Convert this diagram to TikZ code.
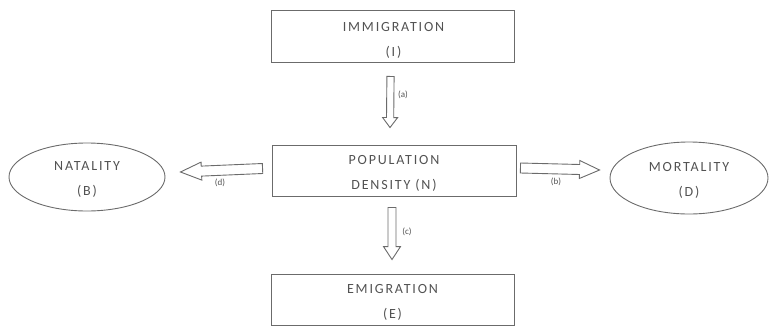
\documentclass[tikz,border=0pt]{standalone}
\usepackage{fontspec}
\setmainfont{Carlito}
\usetikzlibrary{calc,shapes.geometric}
\definecolor{linegray}{gray}{0.42}
\definecolor{textgray}{gray}{0.32}
\newcommand\blockarr[5]{% from, to, shaft half width, head half width, head length
  \draw[blockarrow] ($(#1)!#3!90:(#2)$)
    -- ($($(#2)!#5!(#1)$)!#3!-90:(#1)$)
    -- ($($(#2)!#5!(#1)$)!#4!-90:(#1)$)
    -- (#2)
    -- ($($(#2)!#5!(#1)$)!#4!90:(#1)$)
    -- ($($(#2)!#5!(#1)$)!#3!90:(#1)$)
    -- ($(#1)!#3!-90:(#2)$) -- cycle;}
\begin{document}
\begin{tikzpicture}[x=1pt,y=-1pt,
  every node/.style={text=textgray},
  boxnode/.style={draw=linegray, line width=0.9pt, minimum width=243pt, minimum height=52pt, inner sep=0pt},
  ovalnode/.style={draw=linegray, line width=0.9pt, ellipse, inner sep=0pt},
  txt/.style={align=center, inner sep=0pt,
    font=\fontsize{14}{25}\selectfont\addfontfeature{LetterSpace=13}},
  blockarrow/.style={draw=linegray, line width=0.9pt, fill=white, line join=miter},
  lbl/.style={font=\fontsize{9}{10}\selectfont, inner sep=0pt}]
\useasboundingbox (0,0) rectangle (770,327);
\node[boxnode] (imm) at (392.5,36) {};
\node[boxnode, minimum width=244pt, minimum height=51pt] (pop) at (394,170.5) {};
\node[boxnode, minimum height=51pt] (emi) at (392.5,299.5) {};
\node[ovalnode, minimum width=156pt, minimum height=68pt] (nat) at (87,177) {};
\node[ovalnode, minimum width=158pt, minimum height=72pt] (mor) at (689,178) {};
\node[txt] (immt) at ($(imm)+(1,4)$) {IMMIGRATION\\(I)};
\node[txt] (popt) at ($(pop)+(0,2.5)$) {POPULATION\\DENSITY (N)};
\node[txt] (emit) at ($(emi)+(0,3)$) {EMIGRATION\\(E)};
\node[txt] (natt) at ($(nat)+(0,2.5)$) {NATALITY\\(B)};
\node[txt] (mort) at ($(mor)+(0,2)$) {MORTALITY\\(D)};
\coordinate (a1) at ($(imm.south)+(-2,14)$);
\coordinate (a2) at ($(pop.north)+(-4,-17)$);
\coordinate (b1) at ($(pop.east)+(4,-2.5)$);
\coordinate (b2) at ($(mor.west)+(-10,-8)$);
\coordinate (c1) at ($(pop.south)+(-2,11)$);
\coordinate (c2) at ($(emi.north)+(-0.5,-14)$);
\coordinate (d1) at ($(pop.west)+(-9,-2)$);
\coordinate (d2) at ($(nat.east)+(15,-5)$);
\blockarr{a1}{a2}{3.6pt}{7.5pt}{10pt}
\blockarr{b1}{b2}{5pt}{9pt}{20pt}
\blockarr{c1}{c2}{4pt}{8.5pt}{13pt}
\blockarr{d1}{d2}{5pt}{9pt}{21pt}
\node[lbl] (la) at (403,95) {(a)};
\node[lbl] (lb) at (556,182) {(b)};
\node[lbl] (lc) at (407,232) {(c)};
\node[lbl] (ld) at (220,183) {(d)};
\end{tikzpicture}
\end{document}
